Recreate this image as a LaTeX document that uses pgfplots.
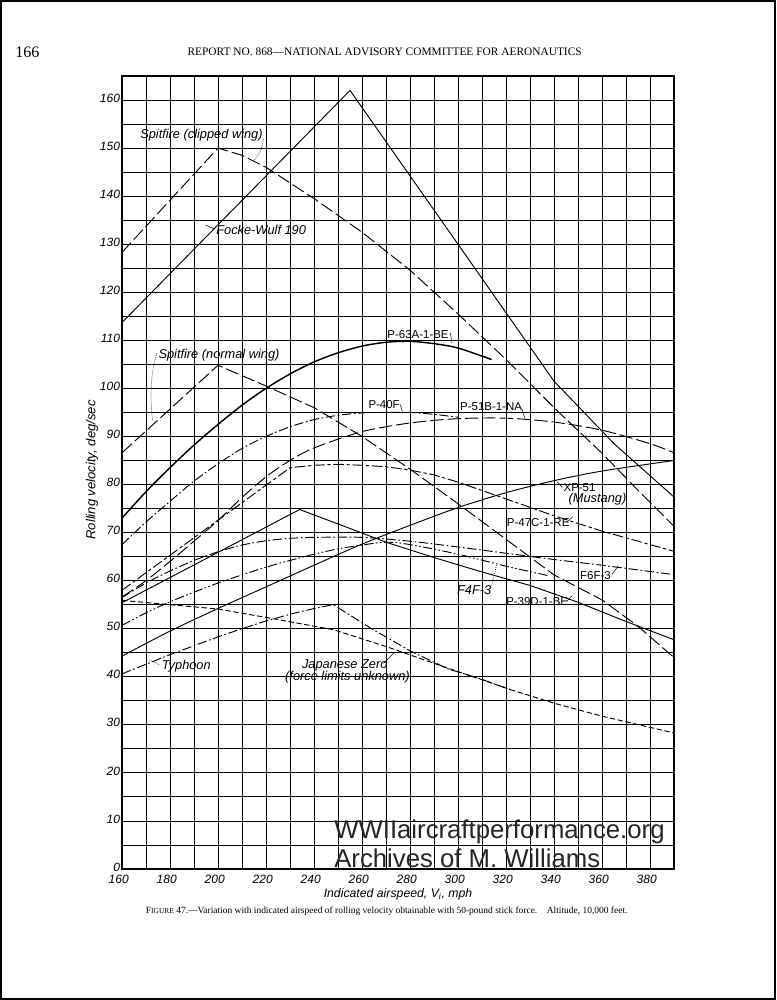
\documentclass[border=0pt]{standalone}
\usepackage{fontspec}
\setmainfont{Liberation Serif}
\newfontfamily\labf{Liberation Sans}
\usepackage{pgfplots}
\pgfplotsset{compat=1.18}
\tikzset{
  lbl/.style={font=\labf\itshape\fontsize{9.6pt}{10pt}\selectfont, anchor=west, inner sep=0pt},
  lblu/.style={font=\labf\fontsize{8.6pt}{10pt}\selectfont, anchor=west, inner sep=0pt},
  ldr/.style={black, line width=0.4pt},
  ldrd/.style={black, line width=0.5pt, densely dotted},
  solidc/.style={black, line width=0.7pt},
  longdash/.style={black, line width=0.7pt, dash pattern=on 10pt off 3pt},
  dashc/.style={black, line width=0.7pt, dash pattern=on 7pt off 2.5pt},
  dashdot/.style={black, line width=0.7pt, dash pattern=on 7pt off 2pt on 1.2pt off 2pt},
  dashdotdot/.style={black, line width=0.7pt, dash pattern=on 7pt off 1.8pt on 1.2pt off 1.8pt on 1.2pt off 1.8pt},
  longshort/.style={black, line width=0.7pt, dash pattern=on 8pt off 2pt on 2.5pt off 2pt},
  shortdash/.style={black, line width=0.7pt, dash pattern=on 4pt off 2pt},
}
\begin{document}
\begin{tikzpicture}
\useasboundingbox (0,0) rectangle (582pt,750pt);
\fill[white] (0,0) rectangle (582pt,750pt);
\draw[line width=1.2pt] (0.6pt,0.6pt) rectangle (581.4pt,749.4pt);
% header
\node[font=\fontsize{12pt}{14pt}\selectfont] at (20.5pt,711pt) {166};
\node[font=\fontsize{8.55pt}{10pt}\selectfont] at (288.5pt,711pt) {REPORT NO. 868---NATIONAL ADVISORY COMMITTEE FOR AERONAUTICS};
\begin{axis}[
  at={(91.5pt,98.25pt)}, anchor=south west,
  scale only axis, width=414pt, height=594.75pt,
  xmin=160, xmax=390, ymin=0, ymax=165,
  xtick={160,180,...,380}, minor xtick={170,190,...,390},
  ytick={0,10,...,160}, minor ytick={5,15,...,165},
  grid=both,
  major grid style={black, line width=0.65pt},
  minor grid style={black, line width=0.65pt},
  major tick length=0pt, minor tick length=0pt,
  axis line style={black, line width=1pt},
  /pgf/number format/assume math mode=true,
  ticklabel style={font=\labf\itshape\fontsize{9pt}{9pt}\selectfont},
  xticklabel style={xshift=-2.5pt, yshift=-1.2pt},
  yticklabel style={xshift=2pt, yshift=1.5pt},
  clip=false,
]
% Focke-Wulf 190
\addplot[solidc] coordinates {(160,113.7) (255,162) (300,130) (340,101.5) (365,88.5) (390,77.4)};
% Spitfire clipped wing
\addplot[longdash] coordinates {(160,128.3) (200,150) (210,148.5) (220,146) (240,139.5) (260,132.5) (280,124.6) (300,115.5) (320,106) (340,96) (360,86.5) (375,78.8) (390,71.3)};
% Spitfire normal wing
\addplot[longdash] coordinates {(160,86.6) (200,104.8) (220,100.5) (240,96) (260,90) (280,83.2) (300,76) (320,68.6) (340,61.2) (360,56) (375,50.5) (390,44)};
% P-63A-1-BE
\addplot[black, line width=1.1pt, smooth] coordinates {(160,73) (170,78.5) (180,83.5) (190,88.2) (200,92.5) (210,96.5) (220,100) (230,103) (240,105.5) (250,107.4) (260,108.8) (270,109.6) (280,109.8) (290,109.3) (300,108.4) (314,106)};
% P-40F
\addplot[dashdot, smooth] coordinates {(160,67.5) (170,72.2) (180,76.5) (190,80.7) (200,84.3) (210,87.5) (220,90) (230,92) (240,93.5) (250,94.4) (260,94.9) (270,95) (280,95) (290,94.6) (300,94)};
% P-51B-1-NA
\addplot[longdash, smooth] coordinates {(160,56.6) (170,60) (180,64) (190,68.2) (200,72.5) (210,77.3) (220,81.6) (230,85) (240,87.6) (260,91) (280,92.8) (300,93.7) (320,93.8) (340,93) (360,91.3) (380,88.5) (390,86.6)};
% XP-51 (Mustang)
\addplot[solidc, smooth] coordinates {(160,44.3) (180,49.5) (200,54.2) (220,58.7) (240,63.2) (260,67.6) (280,71.5) (300,75.2) (320,78.3) (340,80.8) (360,82.8) (390,85)};
% P-47C-1-RE
\addplot[longshort] coordinates {(160,58) (230,83.5) (240,84) (250,84.2) (260,84) (270,83.7) (280,83) (290,82) (300,80.5) (320,77) (340,73.5) (360,70.3) (390,66.1)};
% F6F-3
\addplot[dashdot, smooth] coordinates {(160,56.5) (170,59.5) (180,62) (190,64.2) (200,66) (210,67.4) (220,68.3) (230,68.8) (240,69) (260,69) (280,68.2) (300,67) (320,65.7) (340,64.4) (360,63.2) (390,61.25)};
% F4F-3
\addplot[dashdotdot, smooth] coordinates {(160,50.7) (170,53.3) (180,55.6) (190,57.6) (200,59.5) (210,61.2) (220,62.8) (230,64.2) (240,65.5) (250,66.6) (260,67.4) (270,68) (280,67.5) (300,65.5) (320,63) (338,61)};
% P-39D-1-BE
\addplot[solidc] coordinates {(160,55.4) (234,74.8) (250,71.8) (270,68) (290,64.8) (310,61.8) (330,59) (350,55.5) (370,51.5) (390,47.7)};
% Typhoon
\addplot[shortdash] coordinates {(160,55.9) (180,55) (200,54.1) (225,51.9) (248,49.8) (270,46.3) (294,42.1) (322,37.3) (340,34.5) (360,31.8) (390,28.3)};
% Japanese Zero
\addplot[dashdot] coordinates {(160,40.6) (180,44.6) (200,48.3) (210,50) (220,51.6) (230,53) (240,54.2) (248,55) (264,50) (280,45.4) (296,41.6) (308,39.8) (322,37.3)};
% labels
\node[lbl] at (axis cs:167.5,152.6) {Spitfire (clipped wing)};
\draw[ldrd] (axis cs:219,151.8) .. controls (axis cs:218,149.5) .. (axis cs:215,147.4);
\node[lbl] at (axis cs:199.2,133) {Focke-Wulf 190};
\draw[ldr] (axis cs:194.8,134) -- (axis cs:198.4,133.2);
\node[lblu] at (axis cs:270.5,111.25) {P-63A-1-BE};
\draw[ldr] (axis cs:296.8,111.5) -- (axis cs:297.5,109.5);
\node[lbl] at (axis cs:175.1,106.9) {Spitfire (normal wing)};
\draw[ldrd] (axis cs:174.6,107.3) .. controls (axis cs:171.5,103) and (axis cs:171.8,97) .. (axis cs:172.8,93.3);
\node[lblu] at (axis cs:262.6,96.7) {P-40F};
\draw[ldr] (axis cs:276,96.6) -- (axis cs:277,94.8);
\node[lblu] at (axis cs:300.8,96.2) {P-51B-1-NA};
\draw[ldr] (axis cs:326.6,95.8) -- (axis cs:327.8,93.8);
\node[lblu] at (axis cs:343.9,79.3) {XP-51};
\draw[ldr] (axis cs:341.2,80.6) -- (axis cs:343.5,79.4);
\node[lbl] at (axis cs:346,76.9) {(Mustang)};
\node[lblu] at (axis cs:320.3,72.1) {P-47C-1-RE};
\draw[ldr] (axis cs:345.3,72.1) -- (axis cs:347.8,73.3);
\node[lblu] at (axis cs:350.8,61) {F6F-3};
\draw[ldr] (axis cs:364.2,61.3) -- (axis cs:366.8,63.1);
\node[lbl] at (axis cs:299.5,58.1) {F4F-3};
\draw[ldrd] (axis cs:314,59) -- (axis cs:316.1,63.3);
\node[lblu] at (axis cs:320,55.7) {P-39D-1-BE};
\draw[ldr] (axis cs:345.3,55.7) -- (axis cs:347.6,56.9);
\node[lbl] at (axis cs:176.5,42.3) {Typhoon};
\draw[ldrd] (axis cs:171.5,43.5) -- (axis cs:175.8,42.4);
\node[lbl] at (axis cs:234.9,42.3) {Japanese Zero};
\node[lbl] at (axis cs:227.9,40.0) {(force limits unknown)};
\draw[ldr] (axis cs:268.9,42.8) -- (axis cs:273.7,45.2);
\end{axis}
% axis titles
\node[font=\labf\itshape\fontsize{9.2pt}{10pt}\selectfont] at (298.5pt,79.6pt) {Indicated airspeed, V\textsubscript{i}, mph};
\node[font=\labf\itshape\fontsize{9.8pt}{10pt}\selectfont, rotate=90] at (69pt,397.5pt) {Rolling velocity, deg/sec};
% caption
\node[font=\fontsize{7.1pt}{8pt}\selectfont] at (290pt,66.5pt) {F{\fontsize{5.6pt}{6pt}\selectfont IGURE} 47.---Variation with indicated airspeed of rolling velocity obtainable with 50-pound stick force.\quad Altitude, 10,000 feet.};
% watermark
\node[font=\labf\fontsize{19.3pt}{20pt}\selectfont, text=black!85, anchor=west, inner sep=0pt] at (250.5pt,126.4pt) {WWIIaircraftperformance.org};
\node[font=\labf\fontsize{19.3pt}{20pt}\selectfont, text=black!85, anchor=west, inner sep=0pt] at (250.5pt,106.6pt) {Archives of M. Williams};
\end{tikzpicture}
\end{document}
